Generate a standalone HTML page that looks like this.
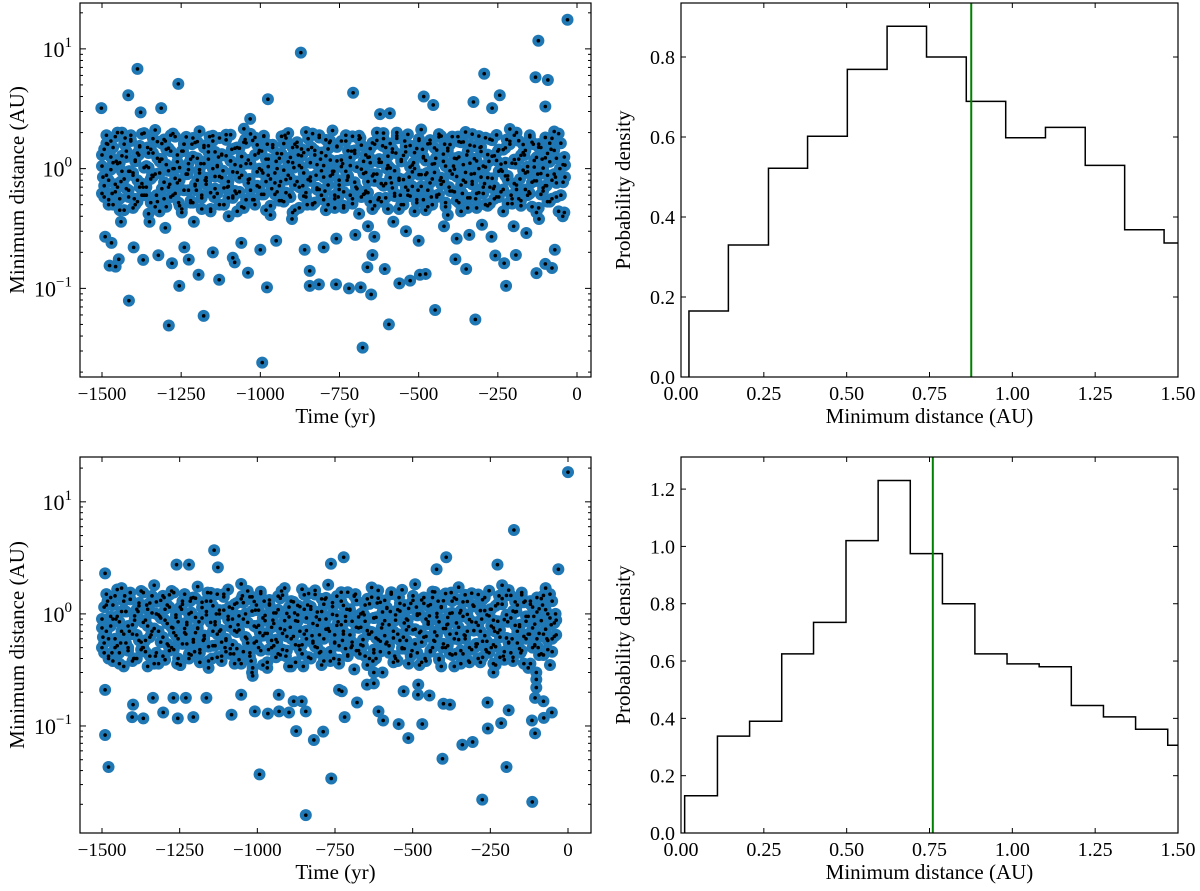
<!DOCTYPE html>
<html><head><meta charset="utf-8">
<style>
html,body{margin:0;padding:0;background:#fff;}
svg{display:block;font-family:"Liberation Serif","DejaVu Serif",serif;}
</style></head>
<body>
<svg id="chartsvg" width="1200" height="891" viewBox="0 0 1200 891" xmlns="http://www.w3.org/2000/svg"></svg>
<script>
// ---------- DATA ----------
var topBandTimes=[-1500,-1493,-1486,-1479,-1472,-1465,-1458,-1451,-1444,-1437,-1430,-1423,-1416,-1409,-1402,-1395,-1388,-1381,-1374,-1367,-1360,-1353,-1346,-1339,-1332,-1325,-1318,-1311,-1304,-1297,-1290,-1283,-1276,-1269,-1262,-1255,-1248,-1241,-1234,-1227,-1220,-1213,-1206,-1199,-1192,-1185,-1178,-1171,-1164,-1157,-1150,-1143,-1136,-1129,-1122,-1115,-1108,-1101,-1094,-1087,-1080,-1073,-1066,-1059,-1052,-1045,-1038,-1031,-1024,-1017,-1010,-1003,-996,-989,-982,-975,-968,-961,-954,-947,-940,-933,-926,-919,-912,-905,-898,-891,-884,-877,-870,-863,-856,-849,-842,-835,-828,-821,-814,-807,-800,-793,-786,-779,-772,-765,-758,-751,-744,-737,-730,-723,-716,-709,-702,-695,-688,-681,-674,-667,-660,-653,-646,-639,-632,-625,-618,-611,-604,-597,-590,-583,-576,-569,-562,-555,-548,-541,-534,-527,-520,-513,-506,-499,-492,-485,-478,-471,-464,-457,-450,-443,-436,-429,-422,-415,-408,-401,-394,-387,-380,-373,-366,-359,-352,-345,-338,-331,-324,-317,-310,-303,-296,-289,-282,-275,-268,-261,-254,-247,-240,-233,-226,-219,-212,-205,-198,-191,-184,-177,-170,-163,-156,-149,-142,-135,-128,-121,-114,-107,-100,-93,-86,-79,-72,-65,-58,-51,-44,-38];
var topBandDist=[1.3,.72,1.9,.55,.98,1.5,.64,1.1,.45,2.0,.82,1.25,.58,1.7,.92,.5,1.35,.7,1.95,.6,1.05,.42,1.45,.86,2.1,.53,1.15,.68,1.75,.48,.96,1.4,.6,1.85,.76,1.02,.43,1.6,.9,.66,1.2,.52,1.65,.8,2.05,.57,1.1,.74,1.55,.46,1.0,1.38,.62,1.8,.84,.5,1.28,.71,1.92,.59,1.08,.44,1.48,.88,2.15,.55,1.18,.66,1.72,.5,.94,1.42,.61,1.88,.78,1.04,.41,1.58,.92,.64,1.22,.54,1.62,.81,1.98,.58,1.12,.73,1.52,.47,1.02,1.36,.63,1.78,.85,.51,1.3,.69,1.9,.6,1.06,.45,1.46,.87,2.08,.56,1.16,.67,1.7,.49,.95,1.41,.6,1.86,.77,1.03,.42,1.57,.91,.65,1.24,.53,1.64,.79,2.0,.57,1.13,.72,1.5,.46,1.01,1.37,.62,1.79,.83,.5,1.29,.7,1.93,.59,1.07,.44,1.47,.89,2.12,.55,1.17,.66,1.73,.5,.93,1.43,.61,1.87,.78,1.05,.41,1.59,.9,.64,1.21,.52,1.66,.8,2.02,.57,1.11,.74,1.54,.47,1.0,1.39,.62,1.81,.84,.51,1.27,.71,1.91,.58,1.09,.44,1.49,.87,2.14,.56,1.19,.67,1.71,.49,.97,1.42,.6,1.84,.77,1.03,.43,1.6,.91,.65,1.23,.53,1.63,.8,2.04,.58];
var topBand3Dist=[.62,1.45,.88,.5,1.7,1.12,.74,2.0,.56,1.28,1.6,.68,.95,1.9,.47,1.18,.8,1.52,.6,1.02,.7,1.35,.52,1.78,.9,1.22,.44,1.62,.77,1.08,1.48,.58,1.96,.83,1.14,.49,1.4,.66,1.84,.98,.54,1.26,.72,1.68,.92,.46,1.56,.79,1.2,.63,1.88,.86,1.04,.5,1.32,.69,1.74,.57,1.16,.94,.65,1.5,.84,.48,1.66,1.1,.76,1.95,.55,1.3,1.58,.7,.97,1.86,.45,1.2,.82,1.5,.61,1.0,.72,1.33,.53,1.8,.88,1.24,.43,1.6,.78,1.06,1.46,.59,2.02,.81,1.12,.5,1.42,.67,1.82,.96,.55,1.28,.73,1.7,.9,.47,1.54,.8,1.18,.64,1.9,.85,1.06,.51,1.34,.68,1.76,.58,1.15,.93,.63,1.47,.87,.49,1.72,1.13,.75,1.98,.57,1.27,1.62,.69,.96,1.88,.46,1.19,.81,1.53,.6,1.03,.71,1.36,.52,1.77,.89,1.23,.45,1.61,.76,1.09,1.49,.58,1.94,.84,1.15,.48,1.41,.65,1.85,.99,.54,1.25,.73,1.67,.93,.47,1.57,.78,1.21,.62,1.87,.85,1.05,.5,1.31,.7,1.73,.56,1.17,.95,.64,1.44,.87,.51,1.69,1.11,.75,2.0,.56,1.29,1.59,.67,.94,1.9,.48,1.17,.79,1.51,.61,1.01,.72,1.34,.53,1.79,.9,1.22,.44,1.63,.77,1.07,1.47,.6];
var topBand4Dist=[1.05,.58,1.62,.8,1.25,.5,1.85,.7,1.12,.95,.45,1.4,.66,1.75,.88,1.15,.53,1.55,.75,1.98,.6,1.02,.82,1.35,.48,1.68,.92,1.2,.56,1.45,.7,1.9,1.0,.62,1.3,.8,.46,1.6,.9,1.1,.52,1.8,.74,1.22,.98,.6,1.5,.84,1.38,.44,1.7,.68,1.06,.86,1.3,.5,1.92,.78,1.16,.57,1.48,.93,.64,1.26,.47,1.64,.81,1.1,.55,1.82,.72,1.0,1.4,.61,1.2,.88,.49,1.58,.76,1.34,.54,1.86,.97,.63,1.14,.83,1.5,.45,1.66,.7,1.28,.92,.58,1.44,.79,1.96,.52,1.08,.67,1.36,.85,1.74,.5,1.18,.95,.6,1.52,.73,1.04,.47,1.7,.87,1.24,.56,1.42,.68,1.88,.99,.61,1.3,.78,1.12,.46,1.6,.9,1.2,.53,1.78,.75,1.06,.84,1.46,.59,2.0,.8,1.15,.5,1.38,.66,1.56,.94,1.0,.55,1.72,.71,1.26,.89,.48,1.62,.82,1.1,.6,1.84,.74,1.32,.52,1.48,.96,.65,1.22,.86,1.68,.44,1.08,.77,1.4,.57,1.94,.91,1.16,.63,1.52,.7,1.03,.49,1.76,.83,1.28,.58,1.44,.98,.67,1.12,.81,1.6,.51,1.9,.73,1.2,.54,1.36,.92,1.04,.62,1.66,.79,1.24,.47,1.5,.69,1.82,.88,1.14,.56,1.42,.76,1.96,.6,1.08,.85];
var topBand2Times=[-1497,-1482,-1468,-1455,-1440,-1427,-1412,-1398,-1384,-1370,-1356,-1342,-1328,-1314,-1300,-1286,-1272,-1258,-1244,-1230,-1216,-1202,-1188,-1174,-1160,-1146,-1132,-1118,-1104,-1090,-1076,-1062,-1048,-1034,-1020,-1006,-992,-978,-964,-950,-936,-922,-908,-894,-880,-866,-852,-838,-824,-810,-796,-782,-768,-754,-740,-726,-712,-698,-684,-670,-656,-642,-628,-614,-600,-586,-572,-558,-544,-530,-516,-502,-488,-474,-460,-446,-432,-418,-404,-390,-376,-362,-348,-334,-320,-306,-292,-278,-264,-250,-236,-222,-208,-194,-180,-166,-152,-138,-124,-110,-96,-82,-68,-54,-40];
var topBand2Dist=[.85,1.6,.62,1.15,.78,1.8,.95,.56,1.3,.7,1.5,.88,.6,1.2,1.7,.74,1.0,.52,1.4,.9,1.6,.66,1.1,.8,1.85,.58,1.25,.96,.7,1.45,.62,1.05,1.75,.82,.55,1.35,.92,1.6,.68,1.15,.78,1.9,.6,1.02,1.3,.72,.5,1.5,.88,1.2,.65,1.65,.95,.58,1.1,.8,1.4,.7,1.8,.62,1.25,.9,.55,1.55,1.0,.76,1.35,.6,1.7,.85,1.12,.66,1.45,.92,.58,1.22,.8,1.6,.7,1.05,1.85,.62,1.3,.9,.56,1.5,.75,1.15,.68,1.4,.95,1.75,.6,1.1,.82,1.3,.64,1.6,.9,1.2,.72,1.45,.85,1.0,1.25];
var topOutTimes=[-30,-122,-872,-1388,-1259,-131,-92,-293,-1417,-707,-976,-484,-454,-327,-244,-1313,-1502,-1378,-622,-591,-1032,-268,-100,-1415,-1289,-1179,-994,-677,-594,-448,-321,-979,-1256,-1130,-1195,-1039,-844,-815,-761,-720,-683,-650,-561,-527,-496,-478,-224,-128,-100,-79,-607,-662,-844,-1476,-1457,-1447,-1370,-1322,-1279,-1226,-1087,-1081,-384,-350,-230,-193,-258,-646,-1490,-1470,-1440,-1400,-1350,-1300,-1240,-1210,-1150,-1100,-1060,-1000,-950,-900,-860,-800,-760,-700,-660,-640,-580,-540,-500,-420,-380,-340,-300,-270,-200,-160,-120,-70,-40,-45];
var topOutDist=[17.5,11.7,9.3,6.8,5.1,5.8,5.5,6.2,4.1,4.3,3.8,4.0,3.4,3.6,4.1,3.2,3.2,2.95,2.85,2.9,2.6,3.2,3.3,.079,.049,.059,.024,.032,.05,.066,.055,.102,.105,.118,.13,.135,.14,.108,.108,.1,.102,.089,.11,.116,.13,.132,.105,.134,.16,.148,.145,.15,.105,.155,.152,.175,.173,.189,.162,.174,.18,.165,.175,.145,.162,.19,.188,.19,.27,.24,.36,.22,.36,.32,.22,.36,.2,.4,.24,.21,.25,.38,.21,.22,.26,.28,.33,.27,.36,.3,.25,.33,.26,.28,.34,.27,.33,.29,.38,.21,.43,.4];

var botBandTimes=topBandTimes.slice();
var botBandDist=[.9,.55,1.5,.42,.78,1.2,.5,.95,.36,1.7,.66,1.05,.47,1.35,.8,.4,1.1,.58,1.6,.5,.88,.34,1.25,.7,1.8,.45,.98,.56,1.45,.39,.82,1.15,.5,1.55,.64,.85,.35,1.3,.74,.54,1.0,.43,1.4,.68,1.75,.48,.92,.6,1.3,.38,.84,1.18,.52,1.5,.7,.42,1.08,.58,1.65,.49,.9,.36,1.25,.72,1.85,.46,1.0,.55,1.42,.3,.78,1.2,.5,1.58,.64,.87,.33,1.33,.76,.52,1.02,.44,1.38,.67,1.7,.47,.94,.6,1.28,.37,.86,1.16,.53,1.48,.71,.41,1.1,.57,1.62,.5,.89,.35,1.22,.73,1.82,.46,.99,.55,1.44,.39,.8,1.19,.49,1.56,.65,.86,.32,1.32,.75,.53,1.03,.42,1.36,.66,1.72,.48,.93,.59,1.27,.3,.87,1.14,.52,1.52,.7,.4,1.09,.58,1.64,.49,.9,.36,1.24,.72,1.84,.45,1.0,.56,1.4,.38,.81,1.21,.5,1.57,.64,.85,.34,1.31,.74,.52,1.01,.43,1.39,.67,1.73,.47,.95,.6,1.29,.37,.85,1.17,.51,1.49,.7,.41,1.07,.57,1.61,.5,.88,.35,1.23,.72,1.8,.46,.98,.55,1.46,.38,.79,1.2,.49,1.55,.63,.86,.33,1.3,.75,.52,1.04,.43,1.37,.66,1.7,.48,.92,.6];
var botBand3Dist=[.5,1.15,.7,.4,1.4,.9,.6,1.65,.45,1.05,1.3,.55,.78,1.55,.38,.96,.65,1.25,.48,.84,.58,1.1,.42,1.45,.74,1.0,.36,1.32,.62,.88,1.2,.47,1.6,.68,.93,.4,1.15,.54,1.5,.8,.44,1.03,.59,1.38,.75,.37,1.27,.64,.98,.51,1.54,.7,.85,.41,1.08,.56,1.42,.46,.95,.77,.53,1.22,.69,.39,1.36,.9,.62,1.6,.45,1.06,1.29,.57,.79,1.52,.35,.97,.67,1.23,.5,.82,.59,1.09,.43,1.47,.72,1.01,.34,1.3,.63,.87,1.19,.48,1.66,.66,.92,.41,1.16,.55,1.49,.79,.45,1.05,.6,1.39,.74,.38,1.26,.65,.97,.52,1.56,.7,.86,.42,1.1,.56,1.44,.47,.94,.76,.52,1.2,.71,.4,1.41,.92,.61,1.62,.46,1.04,1.32,.56,.8,1.5,.37,.98,.66,1.24,.49,.83,.58,1.12,.43,1.45,.73,1.0,.35,1.33,.62,.9,1.18,.47,1.58,.69,.94,.39,1.14,.54,1.52,.81,.44,1.02,.6,1.35,.76,.36,1.28,.64,.99,.5,1.53,.71,.84,.4,1.07,.57,1.4,.46,.96,.78,.53,1.18,.68,.41,1.37,.89,.61,1.63,.45,1.06,1.28,.55,.77,1.48,.36,.95,.66,1.22,.5,.81,.6,1.11,.44,1.46,.73,1.0,.35,1.3,.63,.88,1.2,.48];
var botBand4Dist=[.75,.45,1.2,.6,.95,.38,1.45,.52,.85,.7,.34,1.05,.5,1.35,.66,.88,.4,1.18,.56,1.55,.46,.78,.62,1.02,.36,1.28,.7,.92,.42,1.1,.54,1.48,.76,.48,.98,.6,.35,1.22,.68,.84,.4,1.38,.56,.93,.74,.45,1.14,.64,1.05,.33,1.3,.52,.8,.66,1.0,.38,1.5,.6,.89,.44,1.12,.71,.49,.96,.36,1.26,.62,.84,.42,1.42,.55,.76,1.08,.47,.92,.67,.37,1.2,.58,1.02,.41,1.44,.74,.48,.87,.63,1.15,.34,1.28,.53,.98,.7,.44,1.1,.6,1.52,.4,.82,.51,1.04,.65,1.36,.38,.9,.73,.46,1.16,.56,.79,.36,1.3,.66,.95,.43,1.08,.52,1.46,.76,.47,1.0,.59,.86,.35,1.23,.69,.92,.4,1.38,.57,.81,.64,1.12,.45,1.56,.61,.88,.38,1.06,.5,1.2,.72,.77,.42,1.32,.54,.97,.68,.37,1.24,.63,.85,.46,1.4,.57,1.01,.4,1.16,.74,.5,.93,.66,1.3,.34,.83,.59,1.07,.44,1.48,.7,.89,.48,1.17,.54,.79,.37,1.34,.64,.98,.45,1.1,.75,.51,.86,.62,1.22,.39,1.46,.56,.92,.41,1.04,.7,.8,.47,1.27,.6,.95,.36,1.15,.53,1.4,.67,.87,.43,1.09,.58,1.5,.46,.83,.65];
var botBand2Times=[-1497,-1482,-1468,-1455,-1440,-1427,-1412,-1398,-1384,-1370,-1356,-1342,-1328,-1314,-1300,-1286,-1272,-1258,-1244,-1230,-1216,-1202,-1188,-1174,-1160,-1146,-1132,-1118,-1104,-1090,-1076,-1062,-1048,-1034,-1020,-1006,-992,-978,-964,-950,-936,-922,-908,-894,-880,-866,-852,-838,-824,-810,-796,-782,-768,-754,-740,-726,-712,-698,-684,-670,-656,-642,-628,-614,-600,-586,-572,-558,-544,-530,-516,-502,-488,-474,-460,-446,-432,-418,-404,-390,-376,-362,-348,-334,-320,-306,-292,-278,-264,-250,-236,-222,-208,-194,-180,-166,-152,-138,-124,-110,-96,-82,-68,-54,-40,-625,-625,-625,-102,-102,-102,-1015,-1015,-240,-240];
var botBand2Dist=[.62,1.3,.45,.9,.55,1.45,.7,.4,1.05,.5,1.2,.65,.42,.95,1.4,.52,.75,.36,1.1,.66,1.3,.46,.85,.58,1.55,.4,1.0,.72,.5,1.15,.44,.8,1.45,.6,.38,1.08,.68,1.3,.48,.88,.56,1.6,.42,.76,1.02,.52,.34,1.2,.64,.94,.46,1.35,.7,.4,.85,.58,1.1,.5,1.5,.44,.98,.66,.38,1.25,.75,.54,1.05,.42,1.4,.62,.88,.47,1.15,.7,.4,.96,.58,1.3,.5,.8,1.55,.44,1.02,.65,.38,1.2,.54,.9,.48,1.1,.7,1.45,.42,.85,.6,1.05,.45,1.3,.66,.95,.5,1.2,.6,.8,1.0,.3,.24,.45,.3,.22,.26,.28,.33,.3,.36];
var botOutTimes=[0,-174,-1139,-722,-392,-763,-1127,-1490,-1260,-1220,-227,-423,-31,-1490,-1479,-993,-844,-762,-404,-340,-307,-276,-198,-115,-514,-106,-818,-788,-875,-545,-469,-595,-258,-215,-1403,-1367,-1303,-1256,-1206,-1083,-1008,-966,-930,-898,-844,-719,-679,-610,-116,-78,-52,-259,-191,-380,-401,-106,-79,-1164,-1400,-1230,-1270,-1336,-1052,-931,-883,-857,-529,-483,-446,-482,-647,-1490,-728,-737];
var botOutDist=[18.4,5.6,3.7,3.2,3.2,2.8,2.6,2.3,2.75,2.75,2.75,2.5,2.5,.083,.043,.037,.016,.034,.051,.068,.072,.022,.043,.021,.078,.086,.075,.089,.09,.104,.104,.112,.095,.106,.12,.117,.132,.117,.12,.126,.135,.129,.135,.132,.135,.12,.162,.135,.112,.118,.132,.162,.138,.155,.158,.178,.166,.178,.155,.178,.178,.178,.19,.19,.166,.166,.204,.19,.187,.234,.234,.21,.204,.21];

var topHistEdges=[0.024,0.143,0.264,0.382,0.502,0.622,0.741,0.861,0.98,1.1,1.22,1.339,1.458,1.578];
var topHistDens=[0.165,0.33,0.522,0.602,0.769,0.877,0.80,0.689,0.598,0.624,0.529,0.368,0.335];
var topMedian=0.876;
var botHistEdges=[0.011,0.110,0.207,0.304,0.400,0.498,0.595,0.692,0.789,0.887,0.984,1.081,1.178,1.275,1.372,1.469,1.566];
var botHistDens=[0.13,0.338,0.39,0.625,0.735,1.02,1.23,0.975,0.80,0.625,0.59,0.58,0.445,0.405,0.362,0.306];
var botMedian=0.76;
var timeTicks=[-1500,-1250,-1000,-750,-500,-250,0];
var timeTickLabels=["\u22121500","\u22121250","\u22121000","\u2212750","\u2212500","\u2212250","0"];
var distTicks=[0,0.25,0.5,0.75,1.0,1.25,1.5];
var distTickLabels=["0.00","0.25","0.50","0.75","1.00","1.25","1.50"];
var topDensTicks=[0,0.2,0.4,0.6,0.8];
var topDensLabels=["0.0","0.2","0.4","0.6","0.8"];
var botDensTicks=[0,0.2,0.4,0.6,0.8,1.0,1.2];
var botDensLabels=["0.0","0.2","0.4","0.6","0.8","1.0","1.2"];
var logTicks=[-1,0,1];

// ---------- DRAW ----------
var SVGNS="http://www.w3.org/2000/svg";
var svgRoot=document.getElementById('chartsvg');
function mk(tag,attrs,parent){var e=document.createElementNS(SVGNS,tag);for(var k in attrs){e.setAttribute(k,String(attrs[k]));}(parent||svgRoot).appendChild(e);return e;}
function txt(s,x,y,size,anchor,parent){var t=mk('text',{x:x,y:y,'font-size':size,'text-anchor':anchor||'middle',fill:'#000'},parent);t.textContent=s;return t;}

function drawFrame(g,x0,y0,x1,y1){
  var r=mk('rect',{x:x0,y:y0,width:x1-x0,height:y1-y0,fill:'none',stroke:'#000','stroke-width':1.2},g);
  
  
}

function scatterPanel(pname,box,lmin,lmax,sets,xlab){
  var g=mk('g',{});
  
  
  var xs=function(t){return box.t0px+(t+1500)*(box.t1px-box.t0px)/1500;};
  var ys=function(v){return box.y1-(Math.log10(v)-lmin)*(box.y1-box.y0)/(lmax-lmin);};
  var clip=mk('clipPath',{id:'clip-'+pname},g);
  mk('rect',{x:box.x0,y:box.y0,width:box.x1-box.x0,height:box.y1-box.y0},clip);
  var pts=mk('g',{'clip-path':'url(#clip-'+pname+')'},g);
  
  
  var s,i,T,D,n;
  for(s=0;s<sets.length;s++){T=sets[s][0];D=sets[s][1];n=Math.min(T.length,D.length);
    for(i=0;i<n;i++){
      var c=mk('circle',{cx:xs(T[i]),cy:ys(D[i]),r:6,fill:'#1f77b4'},pts);
      
      
    }}
  for(s=0;s<sets.length;s++){T=sets[s][0];D=sets[s][1];n=Math.min(T.length,D.length);
    for(i=0;i<n;i++){mk('circle',{cx:xs(T[i]),cy:ys(D[i]),r:1.8,fill:'#000'},pts);}}
  drawFrame(g,box.x0,box.y0,box.x1,box.y1);
  for(i=0;i<timeTicks.length;i++){var x=xs(timeTicks[i]);
    mk('line',{x1:x,x2:x,y1:box.y1,y2:box.y1-5,stroke:'#000'},g);
    mk('line',{x1:x,x2:x,y1:box.y0,y2:box.y0+5,stroke:'#000'},g);
    var l=txt(timeTickLabels[i],x,box.y1+23,19,'middle',g);
    
    
  }
  for(var dd=Math.floor(lmin);dd<=Math.ceil(lmax);dd++){
    for(var m=1;m<10;m++){var lv=dd+Math.log10(m);if(lv<lmin||lv>lmax)continue;
      var yy=ys(Math.pow(10,lv));var L=(m==1)?6:3;
      mk('line',{x1:box.x0,x2:box.x0+L,y1:yy,y2:yy,stroke:'#000'},g);
      mk('line',{x1:box.x1,x2:box.x1-L,y1:yy,y2:yy,stroke:'#000'},g);
    }
  }
  for(i=0;i<logTicks.length;i++){var dv=logTicks[i];var y=ys(Math.pow(10,dv));
    var t=mk('text',{x:box.x0-8,y:y+8,'font-size':22,'text-anchor':'end',fill:'#000'},g);
    
    
    t.appendChild(document.createTextNode('10'));
    var sp=mk('tspan',{dy:-10,'font-size':15},t); sp.textContent=dv<0?'\u22121':String(dv);
  }
  var yl=txt('Minimum distance (AU)',0,0,21,'middle',g);
  yl.setAttribute('transform','translate(24,'+((box.y0+box.y1)/2)+') rotate(-90)');
  
  
  var xl=txt(xlab,(box.x0+box.x1)/2,box.y1+46,21,'middle',g);
  
  
}

function histPanel(pname,box,ymax,edges,dens,med,yt,ytl){
  var g=mk('g',{});
  
  
  var xs=function(v){return box.x0+v*(box.x1-box.x0)/1.5;};
  var ys=function(v){return box.y1-v*(box.y1-box.y0)/ymax;};
  var clip=mk('clipPath',{id:'clip-'+pname},g);
  mk('rect',{x:box.x0,y:box.y0,width:box.x1-box.x0,height:box.y1-box.y0},clip);
  var d='M'+xs(edges[0])+','+ys(0);
  for(var i=0;i<dens.length;i++){d+=' L'+xs(edges[i])+','+ys(dens[i])+' L'+xs(edges[i+1])+','+ys(dens[i]);}
  d+=' L'+xs(edges[dens.length])+','+ys(0);
  var p=mk('path',{d:d,fill:'none',stroke:'#000','stroke-width':1.5,'clip-path':'url(#clip-'+pname+')'},g);
  
  
  var ml=mk('line',{x1:xs(med),x2:xs(med),y1:box.y0,y2:box.y1,stroke:'#008000','stroke-width':2},g);
  
  
  drawFrame(g,box.x0,box.y0,box.x1,box.y1);
  for(i=0;i<distTicks.length;i++){var x=xs(distTicks[i]);
    mk('line',{x1:x,x2:x,y1:box.y1,y2:box.y1-5,stroke:'#000'},g);
    mk('line',{x1:x,x2:x,y1:box.y0,y2:box.y0+5,stroke:'#000'},g);
    var l=txt(distTickLabels[i],x,box.y1+23,20,'middle',g);
    
    
  }
  for(i=0;i<yt.length;i++){var y=ys(yt[i]);
    mk('line',{x1:box.x0,x2:box.x0+5,y1:y,y2:y,stroke:'#000'},g);
    mk('line',{x1:box.x1,x2:box.x1-5,y1:y,y2:y,stroke:'#000'},g);
    var l2=txt(ytl[i],box.x0-6,y+7,20,'end',g);
    
    
  }
  var yl=txt('Probability density',0,0,21,'middle',g);
  yl.setAttribute('transform','translate(630,'+((box.y0+box.y1)/2)+') rotate(-90)');
  
  
  var xl=txt('Minimum distance (AU)',(box.x0+box.x1)/2,box.y1+46,21,'middle',g);
  
  
}

function drawAll(){
  try{scatterPanel('top-scatter',{x0:80,x1:591,y0:3,y1:377,t0px:102,t1px:577},-1.74,1.383,
    [[topBandTimes,topBandDist],[topBandTimes,topBand3Dist],[topBandTimes,topBand4Dist],[topBand2Times,topBand2Dist],[topOutTimes,topOutDist]],'Time (yr)');}catch(e){}
  try{histPanel('top-histogram',{x0:681,x1:1178,y0:3,y1:377},0.935,topHistEdges,topHistDens,topMedian,topDensTicks,topDensLabels);}catch(e){}
  try{scatterPanel('bottom-scatter',{x0:80,x1:591,y0:457,y1:833,t0px:102,t1px:568},-1.955,1.40,
    [[botBandTimes,botBandDist],[botBandTimes,botBand3Dist],[botBandTimes,botBand4Dist],[botBand2Times,botBand2Dist],[botOutTimes,botOutDist]],'Time (yr)');}catch(e){}
  try{histPanel('bottom-histogram',{x0:681,x1:1178,y0:457,y1:833},1.312,botHistEdges,botHistDens,botMedian,botDensTicks,botDensLabels);}catch(e){}
}
if(document.readyState==='loading'){document.addEventListener('DOMContentLoaded',drawAll);}else{drawAll();}
</script>
</body></html>
